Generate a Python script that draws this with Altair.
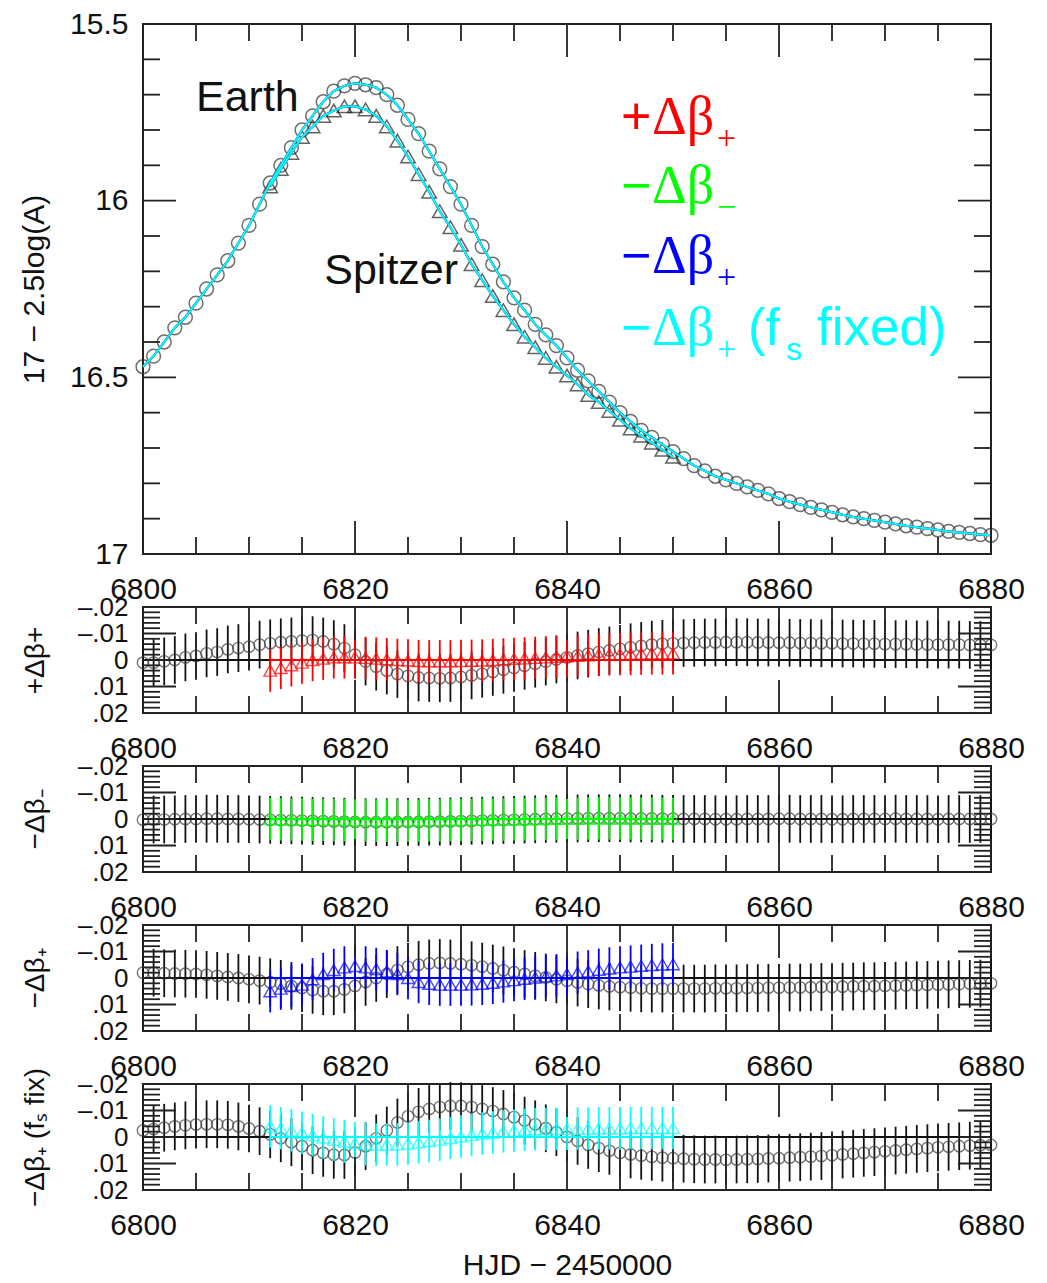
import altair as alt
import pandas as pd

# ---------------- data ----------------
X_DOMAIN = [6800, 6880]
MAG_DOMAIN = [15.5, 17.0]
RES_DOMAIN = [-0.02, 0.02]

EARTH_DAYS = list(range(6800, 6881))
EARTH_MAG = [
    16.47, 16.44, 16.40, 16.36, 16.33, 16.29, 16.25, 16.21, 16.17, 16.12,
    16.07, 16.01, 15.95, 15.90, 15.85, 15.80, 15.76, 15.72, 15.69, 15.675,
    15.668, 15.672, 15.68, 15.70, 15.73, 15.77, 15.81, 15.86, 15.91, 15.96,
    16.01, 16.07, 16.13, 16.18, 16.23, 16.275, 16.31, 16.35, 16.38, 16.41,
    16.445, 16.48, 16.51, 16.54, 16.57, 16.60, 16.625, 16.65, 16.67, 16.69,
    16.71, 16.73, 16.75, 16.765, 16.78, 16.79, 16.80, 16.81, 16.82, 16.83,
    16.843, 16.852, 16.86, 16.868, 16.875, 16.882, 16.889, 16.895, 16.90, 16.905,
    16.91, 16.915, 16.92, 16.924, 16.928, 16.932, 16.936, 16.939, 16.942, 16.945,
    16.947,
]
SPITZER_DAYS = list(range(6812, 6851))
SPITZER_MAG = [
    15.96, 15.91, 15.865, 15.82, 15.79, 15.76, 15.745, 15.733, 15.733, 15.742,
    15.76, 15.79, 15.83, 15.875, 15.925, 15.975, 16.03, 16.075, 16.125, 16.18,
    16.225, 16.27, 16.31, 16.35, 16.385, 16.415, 16.445, 16.47, 16.495, 16.52,
    16.55, 16.57, 16.595, 16.62, 16.645, 16.665, 16.685, 16.705, 16.725,
]

MODEL_NAMES = ["+Δβ+", "−Δβ−", "−Δβ+", "−Δβ+ (fs fixed)"]
MODEL_COLORS = ["#ff0000", "#00ff00", "#0000ff", "#00ffff"]
RES_TITLES = ["+Δβ+", "−Δβ₋", "−Δβ₊", "−Δβ₊ (fₛ fix)"]

EARTH_ERR = 0.009
SPITZER_ERR = 0.008

RES_EARTH = [
    # +dbeta+
    [0.001, 0.001, 0.0005, 0.0, -0.001, -0.0015, -0.0025, -0.003, -0.004, -0.0045,
     -0.005, -0.0058, -0.0063, -0.0067, -0.007, -0.0073, -0.0075, -0.007, -0.006, -0.0045,
     -0.002, 0.0006, 0.0025, 0.004, 0.0053, 0.006, 0.0066, 0.0068, 0.0069, 0.0068,
     0.0064, 0.0058, 0.0052, 0.0045, 0.0037, 0.003, 0.0022, 0.0014, 0.0006, -0.0002,
     -0.001, -0.0017, -0.0024, -0.003, -0.0036, -0.0042, -0.0048, -0.0053, -0.0058, -0.0061,
     -0.0063, -0.0064, -0.0065, -0.0066, -0.0066, -0.0067, -0.0067, -0.0067, -0.0066, -0.0066,
     -0.0065, -0.0065, -0.0064, -0.0064, -0.0063, -0.0063, -0.0062, -0.0062, -0.0061, -0.0061,
     -0.006, -0.006, -0.006, -0.0059, -0.0059, -0.0058, -0.0058, -0.0058, -0.0057, -0.0057,
     -0.0057],
    # -dbeta-
    [0.0003, 0.0002, 0.0002, 0.0001, 0.0, 0.0, -0.0001, -0.0001, 0.0, 0.0,
     0.0001, 0.0002, 0.0003, 0.0004, 0.0005, 0.0006, 0.0007, 0.0008, 0.0009, 0.001,
     0.0011, 0.0012, 0.0012, 0.0012, 0.0012, 0.0011, 0.0011, 0.001, 0.001, 0.0009,
     0.0008, 0.0007, 0.0006, 0.0005, 0.0004, 0.0003, 0.0002, 0.0001, 0.0, -0.0001,
     -0.0002, -0.0002, -0.0003, -0.0003, -0.0003, -0.0003, -0.0002, -0.0002, -0.0002, -0.0001,
     -0.0001, 0.0, 0.0, 0.0, 0.0001, 0.0001, 0.0001, 0.0, 0.0, 0.0,
     -0.0001, -0.0001, 0.0, 0.0, 0.0, 0.0001, 0.0001, 0.0, 0.0, 0.0,
     0.0, -0.0001, 0.0, 0.0, 0.0, 0.0001, 0.0, 0.0, 0.0, 0.0,
     0.0],
    # -dbeta+
    [-0.002, -0.002, -0.0018, -0.0017, -0.0016, -0.0015, -0.0012, -0.0008, -0.0004, 0.0,
     0.0005, 0.001, 0.0016, 0.0022, 0.003, 0.0038, 0.0045, 0.005, 0.005, 0.0043,
     0.003, 0.0015, 0.0, -0.0015, -0.003, -0.0042, -0.005, -0.0055, -0.0057, -0.0055,
     -0.0052, -0.0048, -0.0043, -0.0036, -0.0029, -0.0022, -0.0015, -0.0008, -0.0002, 0.0005,
     0.001, 0.0017, 0.0023, 0.0028, 0.0032, 0.0035, 0.0037, 0.0039, 0.004, 0.004,
     0.004, 0.004, 0.004, 0.004, 0.0039, 0.0039, 0.0039, 0.0038, 0.0038, 0.0037,
     0.0037, 0.0036, 0.0036, 0.0035, 0.0034, 0.0034, 0.0033, 0.0032, 0.0031, 0.0031,
     0.003, 0.0029, 0.0028, 0.0027, 0.0026, 0.0025, 0.0024, 0.0023, 0.0022, 0.0021,
     0.002],
    # -dbeta+ (fs fixed)
    [-0.0025, -0.003, -0.0035, -0.004, -0.0044, -0.0047, -0.0048, -0.0048, -0.0046, -0.004,
     -0.0032, -0.0022, -0.001, 0.0005, 0.002, 0.0035, 0.005, 0.006, 0.0067, 0.0068,
     0.0058, 0.0035, 0.0005, -0.0025, -0.0055, -0.0078, -0.0095, -0.0106, -0.0113, -0.0117,
     -0.0117, -0.0113, -0.0106, -0.0098, -0.0087, -0.0075, -0.0062, -0.0048, -0.0033, -0.0018,
     0.0, 0.0015, 0.003, 0.0042, 0.0052, 0.006, 0.0066, 0.0071, 0.0075, 0.0078,
     0.008, 0.0082, 0.0084, 0.0085, 0.0085, 0.0086, 0.0085, 0.0084, 0.0083, 0.0081,
     0.008, 0.0078, 0.0076, 0.0074, 0.0072, 0.0069, 0.0066, 0.0063, 0.006, 0.0057,
     0.0054, 0.0051, 0.0048, 0.0045, 0.0042, 0.0039, 0.0037, 0.0035, 0.0033, 0.0031,
     0.003],
]
RES_SPITZER = [
    [0.004, 0.003, 0.002, 0.001, 0.0, -0.0005, -0.001, -0.001, -0.001, -0.0008,
     -0.0005, -0.0003, 0.0, 0.0002, 0.0004, 0.0005, 0.0005, 0.0005, 0.0004, 0.0003,
     0.0002, 0.0, -0.0002, -0.0004, -0.0006, -0.0008, -0.001, -0.0012, -0.0014, -0.0016,
     -0.0018, -0.002, -0.0021, -0.0022, -0.0023, -0.0024, -0.0025, -0.0025, -0.0025],
    [0.0, 0.0001, 0.0002, 0.0002, 0.0003, 0.0003, 0.0004, 0.0004, 0.0005, 0.0005,
     0.0006, 0.0006, 0.0006, 0.0006, 0.0006, 0.0005, 0.0005, 0.0004, 0.0004, 0.0003,
     0.0003, 0.0002, 0.0002, 0.0001, 0.0001, 0.0, 0.0, -0.0001, -0.0001, -0.0001,
     -0.0002, -0.0002, -0.0002, -0.0002, -0.0002, -0.0001, -0.0001, -0.0001, 0.0],
    [0.005, 0.004, 0.003, 0.0025, 0.0005, -0.0015, -0.003, -0.004, -0.0045, -0.004,
     -0.0034, -0.0025, -0.0015, 0.0, 0.0015, 0.0022, 0.0025, 0.0025, 0.0025, 0.0024,
     0.0022, 0.0018, 0.0013, 0.0008, 0.0003, -0.0002, -0.0006, -0.001, -0.0015, -0.002,
     -0.0025, -0.0031, -0.0036, -0.004, -0.0043, -0.0046, -0.0049, -0.0051, -0.0052],
    [-0.004, -0.0033, -0.0025, -0.0016, -0.0007, 0.0002, 0.001, 0.0017, 0.0023, 0.0027,
     0.0029, 0.0029, 0.0028, 0.0025, 0.002, 0.0015, 0.001, 0.0004, -0.0002, -0.0008,
     -0.0013, -0.0017, -0.0021, -0.0024, -0.0027, -0.0029, -0.003, -0.0031, -0.0031, -0.0032,
     -0.0032, -0.0033, -0.0033, -0.0033, -0.0034, -0.0034, -0.0034, -0.0034, -0.0034],
]

# axis ticks / labels
X_MAJOR = [6800, 6820, 6840, 6860, 6880]
X_MINOR = [6805, 6810, 6815, 6825, 6830, 6835, 6845, 6850, 6855, 6865, 6870, 6875]
MAG_MAJOR = [15.5, 16.0, 16.5, 17.0]
MAG_MINOR = [15.6, 15.7, 15.8, 15.9, 16.1, 16.2, 16.3, 16.4, 16.6, 16.7, 16.8, 16.9]
RES_MAJOR = [-0.02, -0.01, 0.0, 0.01, 0.02]
RES_MAJOR_LABELS = ["–.02", "–.01", "0", ".01", ".02"]
RES_MINOR = [-0.018, -0.016, -0.014, -0.012, -0.008, -0.006, -0.004, -0.002,
             0.002, 0.004, 0.006, 0.008, 0.012, 0.014, 0.016, 0.018]

# annotations (data coordinates of the top panel)
ANNOT_TEXT = ["Earth", "Spitzer"]
ANNOT_X = [6805.0, 6817.1]
ANNOT_Y = [15.745, 16.235]
LEGEND_X = 6845.1
LEGEND_Y = [15.81, 16.008, 16.204, 16.408]

# ---------------- styling ----------------
W = 848
H_TOP = 530
H_RES = 106
MAJ_LEN = 33
MIN_LEN = 17
TICK_COLOR = "#222222"
FONT = "Liberation Sans"
SERIF = "Liberation Serif"

XS = alt.Scale(domain=X_DOMAIN, nice=False, zero=False)
MAG_S = alt.Scale(domain=MAG_DOMAIN, reverse=True, nice=False, zero=False)
RES_S = alt.Scale(domain=RES_DOMAIN, reverse=True, nice=False, zero=False)


def x_axis(title=None):
    kw = dict(values=X_MAJOR, format="d", ticks=False, tickSize=0, domain=False, grid=False,
              labelFontSize=30, labelPadding=20, labelFlush=False, labelOverlap=False,
              title=title)
    if title:
        kw.update(titleFontSize=30, titlePadding=10, titleFontWeight="normal")
    return alt.Axis(**kw)


TOP_YAXIS = alt.Axis(values=MAG_MAJOR, format="~g", ticks=False, tickSize=0, domain=False,
                     grid=False, labelFontSize=30, labelPadding=15, labelOverlap=False,
                     labelFlush=False, title="17 − 2.5log(A)", titleFontSize=30,
                     titleX=-100, titleBaseline="alphabetic", titleFontWeight="normal")

expr = "'" + RES_MAJOR_LABELS[-1] + "'"
for i in range(len(RES_MAJOR) - 2, -1, -1):
    mid = (RES_MAJOR[i] + RES_MAJOR[i + 1]) / 2
    expr = f"datum.value < {mid} ? '{RES_MAJOR_LABELS[i]}' : ({expr})"
RES_LABEL_EXPR = expr


def res_yaxis(title):
    return alt.Axis(values=RES_MAJOR, labelExpr=RES_LABEL_EXPR, ticks=False, tickSize=0,
                    domain=False, grid=False, labelFontSize=26, labelPadding=15,
                    labelOverlap=False, labelFlush=False, title=title, titleFontSize=28,
                    titleX=-100, titleBaseline="alphabetic", titleFontWeight="normal")


def tick_layers(H, yscale, ymaj, ymin, xax, yax):
    out = []
    for vals, L in ((X_MAJOR, MAJ_LEN), (X_MINOR, MIN_LEN)):
        d = pd.DataFrame({"t": vals})
        xe = alt.X("t:Q", scale=XS, axis=xax)
        out.append(alt.Chart(d).mark_rule(color=TICK_COLOR, strokeWidth=1.8).encode(
            x=xe, y=alt.value(0), y2=alt.value(L)))
        out.append(alt.Chart(d).mark_rule(color=TICK_COLOR, strokeWidth=1.8).encode(
            x=xe, y=alt.value(H), y2=alt.value(H - L)))
    for vals, L in ((ymaj, MAJ_LEN), (ymin, MIN_LEN)):
        d = pd.DataFrame({"t": vals})
        ye = alt.Y("t:Q", scale=yscale, axis=yax)
        out.append(alt.Chart(d).mark_rule(color=TICK_COLOR, strokeWidth=1.8).encode(
            y=ye, x=alt.value(0), x2=alt.value(L)))
        out.append(alt.Chart(d).mark_rule(color=TICK_COLOR, strokeWidth=1.8).encode(
            y=ye, x=alt.value(W), x2=alt.value(W - L)))
    return out


# ---------------- top panel ----------------
earth = pd.DataFrame({"day": EARTH_DAYS, "mag": EARTH_MAG})
spitzer = pd.DataFrame({"day": SPITZER_DAYS, "mag": SPITZER_MAG})
TX = alt.X("day:Q", scale=XS, axis=x_axis())
TY = alt.Y("mag:Q", scale=MAG_S, axis=TOP_YAXIS)

top_layers = [
    alt.Chart(earth).mark_point(shape="circle", filled=False, color="#333333", size=190,
                                strokeWidth=1.5).encode(x=TX, y=TY),
    alt.Chart(spitzer).mark_point(shape="triangle-up", filled=False, color="#222222",
                                  size=210, strokeWidth=1.5).encode(x=TX, y=TY),
]
for c in MODEL_COLORS:
    top_layers.append(alt.Chart(earth).mark_line(color=c, strokeWidth=2).encode(x=TX, y=TY))
    top_layers.append(alt.Chart(spitzer).mark_line(color=c, strokeWidth=2).encode(x=TX, y=TY))

AX = alt.X("x:Q", scale=XS, axis=x_axis())
AY = alt.Y("y:Q", scale=MAG_S, axis=TOP_YAXIS)
annot = pd.DataFrame({"x": ANNOT_X, "y": ANNOT_Y, "t": ANNOT_TEXT})
top_layers.append(alt.Chart(annot).mark_text(align="left", baseline="alphabetic", font=FONT,
                                             fontSize=43, color="#111111").encode(
    x=AX, y=AY, text="t:N"))

signs = [n[0] for n in MODEL_NAMES]
subs = [n[3] for n in MODEL_NAMES]
leg = pd.DataFrame({"x": [LEGEND_X] * 4, "y": LEGEND_Y, "sign": signs, "core": ["Δβ"] * 4,
                    "sub": subs, "c": MODEL_COLORS})
leg_last = leg.iloc[[3]].assign(p1="(f", p2="s", p3="fixed)")


def leg_text(df, field, font, size, dx, dy=0):
    return alt.Chart(df).mark_text(align="left", baseline="alphabetic", font=font,
                                   fontSize=size, dx=dx, dy=dy).encode(
        x=AX, y=AY, text=f"{field}:N", color=alt.Color("c:N", scale=None))


top_layers += [
    leg_text(leg, "sign", FONT, 52, 0),
    leg_text(leg, "core", SERIF, 54, 31),
    leg_text(leg, "sub", SERIF, 34, 96, 15),
    leg_text(leg_last, "p1", FONT, 52, 127),
    leg_text(leg_last, "p2", FONT, 32, 165, 15),
    leg_text(leg_last, "p3", FONT, 53, 196),
]
top_layers += tick_layers(H_TOP, MAG_S, MAG_MAJOR, MAG_MINOR, x_axis(), TOP_YAXIS)
top = alt.layer(*top_layers).properties(width=W, height=H_TOP)


# ---------------- residual panels ----------------
def res_panel(i, last):
    xa = x_axis("HJD − 2450000" if last else None)
    ya = res_yaxis(RES_TITLES[i])
    col = MODEL_COLORS[i]
    e = pd.DataFrame({"day": EARTH_DAYS, "r": RES_EARTH[i]})
    e["lo"] = e["r"] - EARTH_ERR
    e["hi"] = e["r"] + EARTH_ERR
    s = pd.DataFrame({"day": SPITZER_DAYS, "r": RES_SPITZER[i]})
    s["lo"] = s["r"] - SPITZER_ERR
    s["hi"] = s["r"] + SPITZER_ERR
    X = alt.X("day:Q", scale=XS, axis=xa)
    layers = [
        alt.Chart(e).mark_rule(color="#111111", strokeWidth=1.8).encode(
            x=X, y=alt.Y("lo:Q", scale=RES_S, axis=ya), y2="hi:Q"),
        alt.Chart(e).mark_point(shape="circle", filled=False, color="#3a3a3a", size=130,
                                strokeWidth=1.4).encode(
            x=X, y=alt.Y("r:Q", scale=RES_S, axis=ya)),
        alt.Chart(e).mark_rule(color="#111111", strokeWidth=1.8).encode(
            y=alt.datum(0.0, scale=RES_S, axis=ya)),
        alt.Chart(s).mark_rule(color=col, strokeWidth=1.8).encode(
            x=X, y=alt.Y("lo:Q", scale=RES_S, axis=ya), y2="hi:Q"),
        alt.Chart(s).mark_point(shape="triangle-up", filled=False, color=col, size=160,
                                strokeWidth=1.4).encode(
            x=X, y=alt.Y("r:Q", scale=RES_S, axis=ya)),
        alt.Chart(s).mark_rule(color=col, strokeWidth=1.8).encode(
            x=alt.datum(SPITZER_DAYS[0], scale=XS, axis=xa),
            x2=alt.datum(SPITZER_DAYS[-1]),
            y=alt.datum(0.0, scale=RES_S, axis=ya)),
    ]
    layers += tick_layers(H_RES, RES_S, RES_MAJOR, RES_MINOR, xa, ya)
    return alt.layer(*layers).properties(width=W, height=H_RES)


panels = [res_panel(i, i == 3) for i in range(4)]

chart = alt.vconcat(top, *panels, spacing=53, bounds="flush").properties(
    padding={"left": 10, "top": 0, "right": 5, "bottom": 0}
).configure_view(stroke="#222222", strokeWidth=2).configure_axis(
    labelFont=FONT, titleFont=FONT, labelColor="#111111", titleColor="#111111"
)

chart.save("out.html", embed_options={"renderer": "svg", "actions": False})
